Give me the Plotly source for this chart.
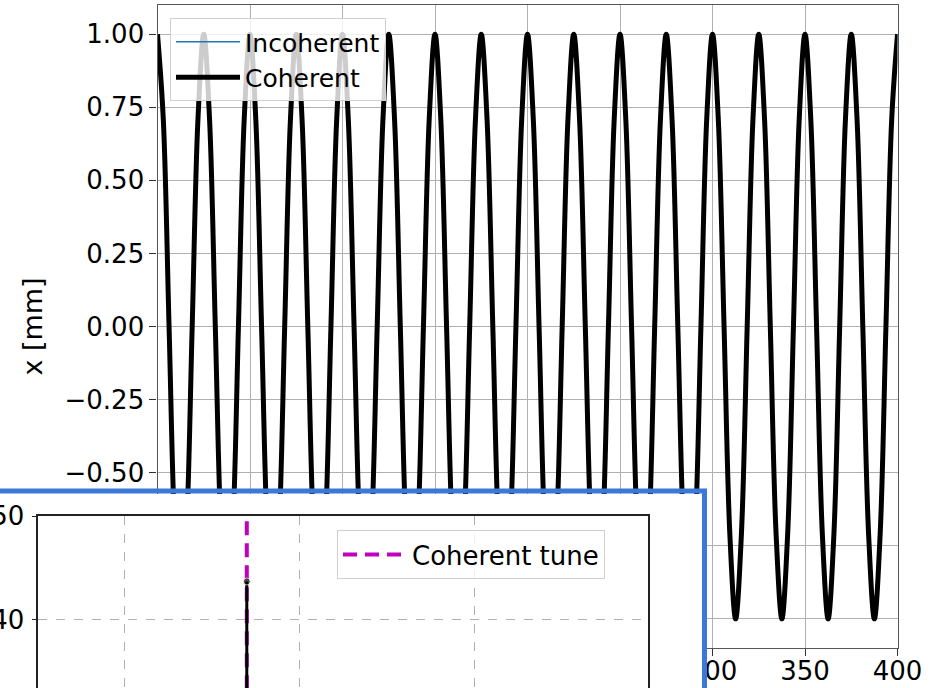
import numpy as np
import plotly.graph_objects as go

# ---------------- data ----------------
# main panel: horizontal position vs turn (16 oscillations over 400 turns)
turns = np.linspace(0, 400, 129).tolist()
x_coherent = [
    1.00, 0.71, 0.00, -0.71, -1.00, -0.71, 0.00, 0.71,
    1.00, 0.71, 0.00, -0.71, -1.00, -0.71, 0.00, 0.71,
    1.00, 0.71, 0.00, -0.71, -1.00, -0.71, 0.00, 0.71,
    1.00, 0.71, 0.00, -0.71, -1.00, -0.71, 0.00, 0.71,
    1.00, 0.71, 0.00, -0.71, -1.00, -0.71, 0.00, 0.71,
    1.00, 0.71, 0.00, -0.71, -1.00, -0.71, 0.00, 0.71,
    1.00, 0.71, 0.00, -0.71, -1.00, -0.71, 0.00, 0.71,
    1.00, 0.71, 0.00, -0.71, -1.00, -0.71, 0.00, 0.71,
    1.00, 0.71, 0.00, -0.71, -1.00, -0.71, 0.00, 0.71,
    1.00, 0.71, 0.00, -0.71, -1.00, -0.71, 0.00, 0.71,
    1.00, 0.71, 0.00, -0.71, -1.00, -0.71, 0.00, 0.71,
    1.00, 0.71, 0.00, -0.71, -1.00, -0.71, 0.00, 0.71,
    1.00, 0.71, 0.00, -0.71, -1.00, -0.71, 0.00, 0.71,
    1.00, 0.71, 0.00, -0.71, -1.00, -0.71, 0.00, 0.71,
    1.00, 0.71, 0.00, -0.71, -1.00, -0.71, 0.00, 0.71,
    1.00, 0.71, 0.00, -0.71, -1.00, -0.71, 0.00, 0.71,
    1.00,
]
x_incoherent = list(x_coherent)

# inset: spectrum and coherent tune
spec_freq = [0.04, 0.04]
spec_amp = [0.0, 43.7]
coherent_tune = 0.04
tune_line_y = [51.6, 0.0]

W, H = 936, 688

fig = go.Figure()
fig.add_trace(go.Scatter(x=turns, y=x_incoherent, mode="lines", name="Incoherent",
                         line=dict(color="#1f77b4", width=1.5, shape="spline"),
                         legend="legend", hoverinfo="skip"))
fig.add_trace(go.Scatter(x=turns, y=x_coherent, mode="lines", name="Coherent",
                         line=dict(color="black", width=5, shape="spline"),
                         legend="legend", hoverinfo="skip"))
# white inset panel (its own subplot so its background covers the main panel)
fig.add_trace(go.Scatter(x=[0.5], y=[0.5], xaxis="x2", yaxis="y2", mode="markers",
                         marker=dict(opacity=0), showlegend=False, hoverinfo="skip"))
# inset traces
fig.add_trace(go.Scatter(x=[coherent_tune, coherent_tune], y=tune_line_y, xaxis="x3", yaxis="y3",
                         mode="lines", name="Coherent tune",
                         line=dict(color="#bf00bf", width=4, dash="14px,8px"),
                         legend="legend2", hoverinfo="skip"))
fig.add_trace(go.Scatter(x=spec_freq, y=spec_amp, xaxis="x3", yaxis="y3", mode="lines+markers",
                         line=dict(color="black", width=3), marker=dict(size=[0, 7], color="black"),
                         showlegend=False, hoverinfo="skip"))

grid = "#b0b0b0"
common = dict(automargin=False, zeroline=False)
FS = 26
fig.update_layout(
    template="none",
    width=W, height=H, margin=dict(l=0, r=0, t=0, b=0, pad=0),
    paper_bgcolor="white", plot_bgcolor="white",
    font=dict(family="DejaVu Sans", color="black", size=FS),
    xaxis=dict(domain=[157.5 / W, 897.5 / W], anchor="y", range=[0, 400], tick0=0, dtick=50,
               showgrid=True, gridcolor=grid, gridwidth=1,
               ticks="outside", ticklen=7, tickcolor="#333", tickwidth=1.2,
               showline=True, linecolor="#555", linewidth=1.2, mirror=True,
               tickfont=dict(size=FS), ticklabelstandoff=-7, **common),
    yaxis=dict(domain=[40 / H, 683 / H], anchor="x", range=[-1.1, 1.1], tick0=-1, dtick=0.25,
               tickformat=".2f", showgrid=True, gridcolor=grid, gridwidth=1,
               ticks="outside", ticklen=7, tickcolor="#333", tickwidth=1.2,
               showline=True, linecolor="#555", linewidth=1.2, mirror=True,
               tickfont=dict(size=FS),
               title=dict(text="x [mm]", font=dict(size=27), standoff=14), **common),
    xaxis2=dict(domain=[0, 702 / W], anchor="y2", range=[0, 1], visible=False, fixedrange=True, **common),
    yaxis2=dict(domain=[0, 194 / H], anchor="x2", range=[0, 1], visible=False, fixedrange=True, **common),
    xaxis3=dict(domain=[38.3 / W, 647.5 / W], anchor="y3", range=[0.028086, 0.062897],
                tick0=0.033, dtick=0.01,
                showgrid=True, griddash="dash", gridcolor=grid, gridwidth=1,
                ticks="outside", ticklen=5, tickcolor="#222",
                showline=True, linecolor="#222", linewidth=1.5, mirror=True,
                tickfont=dict(size=FS), **common),
    yaxis3=dict(domain=[0, 172 / H], anchor="x3", range=[33.46, 50], tick0=0, dtick=10,
                showgrid=True, griddash="dash", gridcolor=grid, gridwidth=1,
                ticks="outside", ticklen=5, tickcolor="#222",
                showline=True, linecolor="#222", linewidth=1.5, mirror=True,
                tickfont=dict(size=FS), ticklabelstandoff=2, **common),
    legend=dict(x=170 / W, y=1 - 18 / H, xanchor="left", yanchor="top",
                bgcolor="rgba(255,255,255,0.8)", bordercolor="#d0d0d0", borderwidth=1,
                font=dict(size=25), itemwidth=64),
    legend2=dict(x=337 / W, y=1 - 530 / H, xanchor="left", yanchor="top",
                 bgcolor="rgba(255,255,255,0.8)", bordercolor="#d0d0d0", borderwidth=1,
                 font=dict(size=26), itemwidth=64),
    shapes=[dict(type="rect", xref="paper", yref="paper", x0=-0.05, x1=704.5 / W,
                 y0=-0.05, y1=1 - 491 / H, line=dict(color="#3c78d8", width=5),
                 fillcolor="rgba(0,0,0,0)", layer="above")],
)

fig.write_html("out.html")
